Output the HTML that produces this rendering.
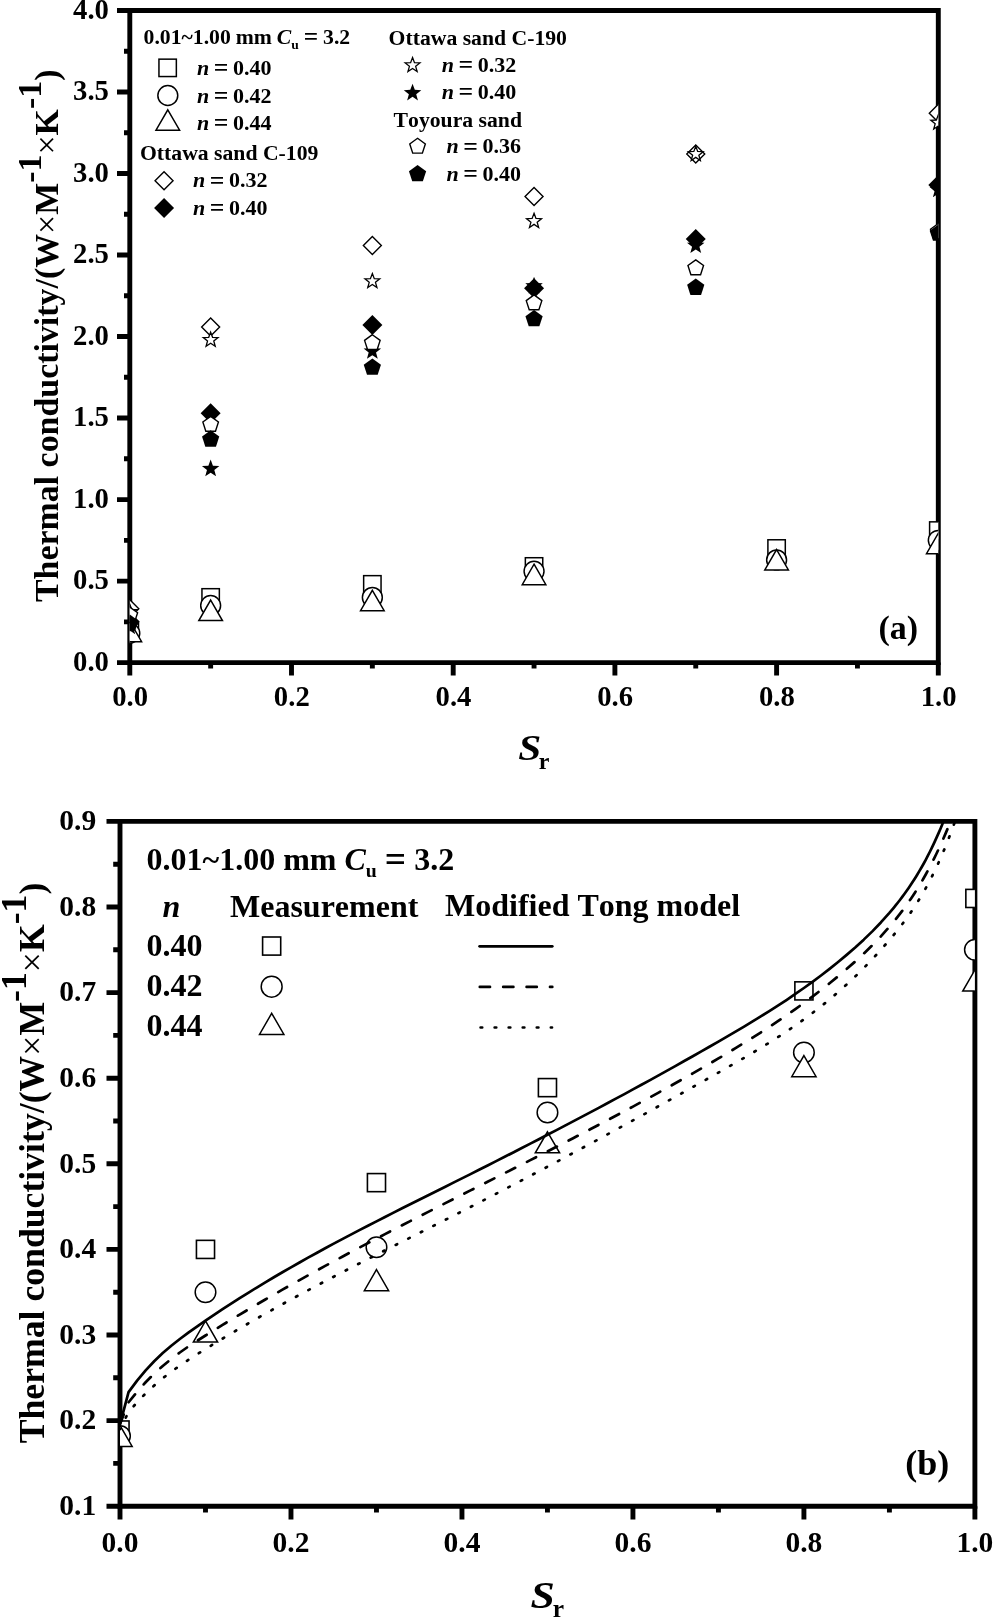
<!DOCTYPE html><html><head><meta charset="utf-8"><style>html,body{margin:0;padding:0;background:#fff;overflow:hidden;}svg{display:block;filter:grayscale(1);}text{font-family:"Liberation Serif", serif;font-weight:bold;font-kerning:none;}</style></head><body>
<svg width="993" height="1618" viewBox="0 0 993 1618">
<rect width="993" height="1618" fill="#fff"/>
<defs>
<clipPath id="ca"><rect x="129.8" y="10.5" width="808.5" height="652.1"/></clipPath>
<clipPath id="cb"><rect x="120.0" y="821.4" width="854.9" height="684.8000000000001"/></clipPath>
</defs>
<g stroke="#000" stroke-width="4.9" fill="none" stroke-linecap="butt">
<path d="M129.8,662.6 H938.3 M129.8,10.5 H938.3 M129.8,8.05 V665.0500000000001 M938.3,8.05 V665.0500000000001"/>
<path d="M117,662.6 H129.8 M124,621.84 H129.8 M117,581.09 H129.8 M124,540.33 H129.8 M117,499.58 H129.8 M124,458.82 H129.8 M117,418.06 H129.8 M124,377.31 H129.8 M117,336.55 H129.8 M124,295.79 H129.8 M117,255.04 H129.8 M124,214.28 H129.8 M117,173.52 H129.8 M124,132.77 H129.8 M117,92.01 H129.8 M124,51.26 H129.8 M117,10.5 H129.8 M129.8,662.6 V675.4 M210.65,662.6 V668.6 M291.5,662.6 V675.4 M372.35,662.6 V668.6 M453.2,662.6 V675.4 M534.05,662.6 V668.6 M614.9,662.6 V675.4 M695.75,662.6 V668.6 M776.6,662.6 V675.4 M857.45,662.6 V668.6 M938.3,662.6 V675.4 "/>
</g>
<text x="108.9" y="670.9" font-size="28.7" text-anchor="end">0.0</text>
<text x="108.9" y="589.39" font-size="28.7" text-anchor="end">0.5</text>
<text x="108.9" y="507.88" font-size="28.7" text-anchor="end">1.0</text>
<text x="108.9" y="426.36" font-size="28.7" text-anchor="end">1.5</text>
<text x="108.9" y="344.85" font-size="28.7" text-anchor="end">2.0</text>
<text x="108.9" y="263.34" font-size="28.7" text-anchor="end">2.5</text>
<text x="108.9" y="181.82" font-size="28.7" text-anchor="end">3.0</text>
<text x="108.9" y="100.31" font-size="28.7" text-anchor="end">3.5</text>
<text x="108.9" y="18.8" font-size="28.7" text-anchor="end">4.0</text>
<text x="130.1" y="706.3" font-size="28.7" text-anchor="middle">0.0</text>
<text x="291.8" y="706.3" font-size="28.7" text-anchor="middle">0.2</text>
<text x="453.5" y="706.3" font-size="28.7" text-anchor="middle">0.4</text>
<text x="615.2" y="706.3" font-size="28.7" text-anchor="middle">0.6</text>
<text x="776.9" y="706.3" font-size="28.7" text-anchor="middle">0.8</text>
<text x="938.6" y="706.3" font-size="28.7" text-anchor="middle">1.0</text>
<g clip-path="url(#ca)">
<rect x="121.1" y="622.93" width="17.4" height="17.4" fill="#fff" stroke="#000" stroke-width="1.5"/>
<rect x="201.95" y="588.69" width="17.4" height="17.4" fill="#fff" stroke="#000" stroke-width="1.5"/>
<rect x="363.65" y="575.65" width="17.4" height="17.4" fill="#fff" stroke="#000" stroke-width="1.5"/>
<rect x="525.35" y="557.72" width="17.4" height="17.4" fill="#fff" stroke="#000" stroke-width="1.5"/>
<rect x="767.9" y="539.78" width="17.4" height="17.4" fill="#fff" stroke="#000" stroke-width="1.5"/>
<rect x="929.6" y="521.85" width="17.4" height="17.4" fill="#fff" stroke="#000" stroke-width="1.5"/>
<circle cx="129.8" cy="633.26" r="9.95" fill="#fff" stroke="#000" stroke-width="1.5"/>
<circle cx="210.65" cy="605.54" r="9.95" fill="#fff" stroke="#000" stroke-width="1.5"/>
<circle cx="372.35" cy="597.39" r="9.95" fill="#fff" stroke="#000" stroke-width="1.5"/>
<circle cx="534.05" cy="571.31" r="9.95" fill="#fff" stroke="#000" stroke-width="1.5"/>
<circle cx="776.6" cy="559.89" r="9.95" fill="#fff" stroke="#000" stroke-width="1.5"/>
<circle cx="938.3" cy="540.33" r="9.95" fill="#fff" stroke="#000" stroke-width="1.5"/>
<polygon points="129.8,621.26 141.6,641.7 118,641.7" fill="#fff" stroke="#000" stroke-width="1.5" stroke-linejoin="miter"/>
<polygon points="210.65,600.07 222.45,620.51 198.85,620.51" fill="#fff" stroke="#000" stroke-width="1.5" stroke-linejoin="miter"/>
<polygon points="372.35,590.29 384.15,610.72 360.55,610.72" fill="#fff" stroke="#000" stroke-width="1.5" stroke-linejoin="miter"/>
<polygon points="534.05,564.2 545.85,584.64 522.25,584.64" fill="#fff" stroke="#000" stroke-width="1.5" stroke-linejoin="miter"/>
<polygon points="776.6,549.53 788.4,569.97 764.8,569.97" fill="#fff" stroke="#000" stroke-width="1.5" stroke-linejoin="miter"/>
<polygon points="938.3,533.23 950.1,553.66 926.5,553.66" fill="#fff" stroke="#000" stroke-width="1.5" stroke-linejoin="miter"/>
<polygon points="129.8,599.8 138.8,608.8 129.8,617.8 120.8,608.8" fill="#fff" stroke="#000" stroke-width="1.4" stroke-linejoin="miter"/>
<polygon points="210.65,318.09 219.65,327.09 210.65,336.09 201.65,327.09" fill="#fff" stroke="#000" stroke-width="1.4" stroke-linejoin="miter"/>
<polygon points="372.35,236.42 381.35,245.42 372.35,254.42 363.35,245.42" fill="#fff" stroke="#000" stroke-width="1.4" stroke-linejoin="miter"/>
<polygon points="534.05,187.51 543.05,196.51 534.05,205.51 525.05,196.51" fill="#fff" stroke="#000" stroke-width="1.4" stroke-linejoin="miter"/>
<polygon points="695.75,144.96 704.75,153.96 695.75,162.96 686.75,153.96" fill="#fff" stroke="#000" stroke-width="1.4" stroke-linejoin="miter"/>
<polygon points="938.3,104.21 947.3,113.21 938.3,122.21 929.3,113.21" fill="#fff" stroke="#000" stroke-width="1.4" stroke-linejoin="miter"/>
<polygon points="129.8,611.84 139.8,621.84 129.8,631.84 119.8,621.84" fill="#000" stroke="#000" stroke-width="0" stroke-linejoin="miter"/>
<polygon points="210.65,403.33 220.65,413.33 210.65,423.33 200.65,413.33" fill="#000" stroke="#000" stroke-width="0" stroke-linejoin="miter"/>
<polygon points="372.35,314.98 382.35,324.98 372.35,334.98 362.35,324.98" fill="#000" stroke="#000" stroke-width="0" stroke-linejoin="miter"/>
<polygon points="534.05,278.13 544.05,288.13 534.05,298.13 524.05,288.13" fill="#000" stroke="#000" stroke-width="0" stroke-linejoin="miter"/>
<polygon points="695.75,229.06 705.75,239.06 695.75,249.06 685.75,239.06" fill="#000" stroke="#000" stroke-width="0" stroke-linejoin="miter"/>
<polygon points="938.3,175.1 948.3,185.1 938.3,195.1 928.3,185.1" fill="#000" stroke="#000" stroke-width="0" stroke-linejoin="miter"/>
<polygon points="129.8,604.26 131.73,609.41 137.22,609.65 132.92,613.07 134.38,618.37 129.8,615.34 125.22,618.37 126.68,613.07 122.38,609.65 127.87,609.41" fill="#fff" stroke="#000" stroke-width="1.3" stroke-linejoin="miter"/>
<polygon points="210.65,332.17 212.58,337.32 218.07,337.56 213.77,340.99 215.23,346.28 210.65,343.25 206.07,346.28 207.53,340.99 203.23,337.56 208.72,337.32" fill="#fff" stroke="#000" stroke-width="1.3" stroke-linejoin="miter"/>
<polygon points="372.35,273.48 374.28,278.63 379.77,278.87 375.47,282.3 376.93,287.59 372.35,284.56 367.77,287.59 369.23,282.3 364.93,278.87 370.42,278.63" fill="#fff" stroke="#000" stroke-width="1.3" stroke-linejoin="miter"/>
<polygon points="534.05,213.33 535.98,218.48 541.47,218.72 537.17,222.14 538.63,227.44 534.05,224.4 529.47,227.44 530.93,222.14 526.63,218.72 532.12,218.48" fill="#fff" stroke="#000" stroke-width="1.3" stroke-linejoin="miter"/>
<polygon points="695.75,146.33 697.68,151.47 703.17,151.71 698.87,155.14 700.33,160.44 695.75,157.4 691.17,160.44 692.63,155.14 688.33,151.71 693.82,151.47" fill="#fff" stroke="#000" stroke-width="1.3" stroke-linejoin="miter"/>
<polygon points="938.3,114.86 940.23,120.01 945.72,120.25 941.42,123.67 942.88,128.97 938.3,125.94 933.72,128.97 935.18,123.67 930.88,120.25 936.37,120.01" fill="#fff" stroke="#000" stroke-width="1.3" stroke-linejoin="miter"/>
<polygon points="129.8,617.53 132.07,623.61 138.55,623.89 133.47,627.93 135.21,634.18 129.8,630.6 124.39,634.18 126.13,627.93 121.05,623.89 127.53,623.61" fill="#000" stroke="#000" stroke-width="0" stroke-linejoin="miter"/>
<polygon points="210.65,459.56 212.92,465.64 219.4,465.92 214.32,469.96 216.06,476.21 210.65,472.63 205.24,476.21 206.98,469.96 201.9,465.92 208.38,465.64" fill="#000" stroke="#000" stroke-width="0" stroke-linejoin="miter"/>
<polygon points="372.35,342.19 374.62,348.26 381.1,348.54 376.02,352.58 377.76,358.83 372.35,355.25 366.94,358.83 368.68,352.58 363.6,348.54 370.08,348.26" fill="#000" stroke="#000" stroke-width="0" stroke-linejoin="miter"/>
<polygon points="534.05,276.81 536.32,282.89 542.8,283.17 537.72,287.21 539.46,293.46 534.05,289.88 528.64,293.46 530.38,287.21 525.3,283.17 531.78,282.89" fill="#000" stroke="#000" stroke-width="0" stroke-linejoin="miter"/>
<polygon points="695.75,236.38 698.02,242.46 704.5,242.74 699.42,246.78 701.16,253.03 695.75,249.45 690.34,253.03 692.08,246.78 687,242.74 693.48,242.46" fill="#000" stroke="#000" stroke-width="0" stroke-linejoin="miter"/>
<polygon points="938.3,180.63 940.57,186.7 947.05,186.98 941.97,191.02 943.71,197.27 938.3,193.69 932.89,197.27 934.63,191.02 929.55,186.98 936.03,186.7" fill="#000" stroke="#000" stroke-width="0" stroke-linejoin="miter"/>
<polygon points="129.8,607.12 137.6,612.79 134.62,621.96 124.98,621.96 122,612.79" fill="#fff" stroke="#000" stroke-width="1.4" stroke-linejoin="miter"/>
<polygon points="210.65,416.38 218.45,422.05 215.47,431.22 205.83,431.22 202.85,422.05" fill="#fff" stroke="#000" stroke-width="1.4" stroke-linejoin="miter"/>
<polygon points="372.35,334.71 380.15,340.37 377.17,349.54 367.53,349.54 364.55,340.37" fill="#fff" stroke="#000" stroke-width="1.4" stroke-linejoin="miter"/>
<polygon points="534.05,294.93 541.85,300.6 538.87,309.76 529.23,309.76 526.25,300.6" fill="#fff" stroke="#000" stroke-width="1.4" stroke-linejoin="miter"/>
<polygon points="695.75,259.88 703.55,265.55 700.57,274.71 690.93,274.71 687.95,265.55" fill="#fff" stroke="#000" stroke-width="1.4" stroke-linejoin="miter"/>
<polygon points="938.3,223.52 946.1,229.19 943.12,238.36 933.48,238.36 930.5,229.19" fill="#fff" stroke="#000" stroke-width="1.4" stroke-linejoin="miter"/>
<polygon points="129.8,614.42 138.41,620.68 135.12,630.8 124.48,630.8 121.19,620.68" fill="#000" stroke="#000" stroke-width="0" stroke-linejoin="miter"/>
<polygon points="210.65,430.37 219.26,436.62 215.97,446.74 205.33,446.74 202.04,436.62" fill="#000" stroke="#000" stroke-width="0" stroke-linejoin="miter"/>
<polygon points="372.35,358.47 380.96,364.73 377.67,374.85 367.03,374.85 363.74,364.73" fill="#000" stroke="#000" stroke-width="0" stroke-linejoin="miter"/>
<polygon points="534.05,309.89 542.66,316.15 539.37,326.26 528.73,326.26 525.44,316.15" fill="#000" stroke="#000" stroke-width="0" stroke-linejoin="miter"/>
<polygon points="695.75,278.59 704.36,284.85 701.07,294.96 690.43,294.96 687.14,284.85" fill="#000" stroke="#000" stroke-width="0" stroke-linejoin="miter"/>
<polygon points="938.3,224.47 946.91,230.72 943.62,240.84 932.98,240.84 929.69,230.72" fill="#000" stroke="#000" stroke-width="0" stroke-linejoin="miter"/>
</g>
<text x="143.6" y="43.6" font-size="21.7" word-spacing="-0.5">0.01~1.00 mm <tspan font-style="italic">C</tspan><tspan font-size="13.5" dy="5.5">u</tspan><tspan dy="-5.5"> </tspan><tspan font-size="25.4" dy="1.1">=</tspan><tspan dy="-1.1"> 3.2</tspan></text>
<rect x="158.95" y="59.15" width="17.4" height="17.4" fill="#fff" stroke="#000" stroke-width="1.5"/>
<text x="197" y="75" font-size="22.0" word-spacing="-1"><tspan font-style="italic">n</tspan> <tspan font-size="25.74" dy="1.1">=</tspan><tspan dy="-1.1"> 0.40</tspan></text>
<circle cx="167.8" cy="95.5" r="9.95" fill="#fff" stroke="#000" stroke-width="1.5"/>
<text x="197" y="102.6" font-size="22.0" word-spacing="-1"><tspan font-style="italic">n</tspan> <tspan font-size="25.74" dy="1.1">=</tspan><tspan dy="-1.1"> 0.42</tspan></text>
<polygon points="167.8,109.77 179.6,130.21 156,130.21" fill="#fff" stroke="#000" stroke-width="1.5" stroke-linejoin="miter"/>
<text x="197" y="129.8" font-size="22.0" word-spacing="-1"><tspan font-style="italic">n</tspan> <tspan font-size="25.74" dy="1.1">=</tspan><tspan dy="-1.1"> 0.44</tspan></text>
<text x="140.0" y="160.2" font-size="21.7">Ottawa sand C-109</text>
<polygon points="164.05,171.85 173.05,180.85 164.05,189.85 155.05,180.85" fill="#fff" stroke="#000" stroke-width="1.4" stroke-linejoin="miter"/>
<text x="193" y="187.4" font-size="22.0" word-spacing="-1"><tspan font-style="italic">n</tspan> <tspan font-size="25.74" dy="1.1">=</tspan><tspan dy="-1.1"> 0.32</tspan></text>
<polygon points="164.05,198.05 174.05,208.05 164.05,218.05 154.05,208.05" fill="#000" stroke="#000" stroke-width="0" stroke-linejoin="miter"/>
<text x="193" y="214.6" font-size="22.0" word-spacing="-1"><tspan font-style="italic">n</tspan> <tspan font-size="25.74" dy="1.1">=</tspan><tspan dy="-1.1"> 0.40</tspan></text>
<text x="388.6" y="44.6" font-size="21.7">Ottawa sand C-190</text>
<polygon points="412.55,57.5 414.48,62.65 419.97,62.89 415.67,66.31 417.13,71.61 412.55,68.58 407.97,71.61 409.43,66.31 405.13,62.89 410.62,62.65" fill="#fff" stroke="#000" stroke-width="1.3" stroke-linejoin="miter"/>
<text x="441.8" y="72" font-size="22.0" word-spacing="-1"><tspan font-style="italic">n</tspan> <tspan font-size="25.74" dy="1.1">=</tspan><tspan dy="-1.1"> 0.32</tspan></text>
<polygon points="412.55,83.8 414.82,89.87 421.3,90.16 416.22,94.19 417.96,100.44 412.55,96.86 407.14,100.44 408.88,94.19 403.8,90.16 410.28,89.87" fill="#000" stroke="#000" stroke-width="0" stroke-linejoin="miter"/>
<text x="441.8" y="99" font-size="22.0" word-spacing="-1"><tspan font-style="italic">n</tspan> <tspan font-size="25.74" dy="1.1">=</tspan><tspan dy="-1.1"> 0.40</tspan></text>
<text x="393.6" y="126.6" font-size="21.7">Toyoura sand</text>
<polygon points="417.55,138.3 425.35,143.97 422.37,153.13 412.73,153.13 409.75,143.97" fill="#fff" stroke="#000" stroke-width="1.4" stroke-linejoin="miter"/>
<text x="446.5" y="153.4" font-size="22.0" word-spacing="-1"><tspan font-style="italic">n</tspan> <tspan font-size="25.74" dy="1.1">=</tspan><tspan dy="-1.1"> 0.36</tspan></text>
<polygon points="417.55,164.95 426.16,171.2 422.87,181.32 412.23,181.32 408.94,171.2" fill="#000" stroke="#000" stroke-width="0" stroke-linejoin="miter"/>
<text x="446.5" y="180.6" font-size="22.0" word-spacing="-1"><tspan font-style="italic">n</tspan> <tspan font-size="25.74" dy="1.1">=</tspan><tspan dy="-1.1"> 0.40</tspan></text>
<text x="878.5" y="638.7" font-size="34">(a)</text>
<text transform="translate(518.3,759.6) scale(1.18,1)" font-size="35" font-style="italic">S</text>
<text x="538.8" y="769" font-size="24">r</text>
<text transform="translate(57.6,335.75) rotate(-90)" font-size="33.9" text-anchor="middle">Thermal conductivity/(W<tspan font-weight="normal">×</tspan>M<tspan dy="-16.95">-1</tspan><tspan dy="16.95" font-weight="normal">×</tspan>K<tspan dy="-16.95">-1</tspan><tspan dy="16.95">)</tspan></text>
<g stroke="#000" stroke-width="4.9" fill="none" stroke-linecap="butt">
<path d="M120.0,1506.2 H974.9 M120.0,821.4 H974.9 M120.0,818.9499999999999 V1508.65 M974.9,818.9499999999999 V1508.65"/>
<path d="M106.5,1506.2 H120.0 M113.2,1463.4 H120.0 M106.5,1420.6 H120.0 M113.2,1377.8 H120.0 M106.5,1335 H120.0 M113.2,1292.2 H120.0 M106.5,1249.4 H120.0 M113.2,1206.6 H120.0 M106.5,1163.8 H120.0 M113.2,1121 H120.0 M106.5,1078.2 H120.0 M113.2,1035.4 H120.0 M106.5,992.6 H120.0 M113.2,949.8 H120.0 M106.5,907 H120.0 M113.2,864.2 H120.0 M106.5,821.4 H120.0 M120,1506.2 V1519.5 M205.49,1506.2 V1512.6 M290.98,1506.2 V1519.5 M376.47,1506.2 V1512.6 M461.96,1506.2 V1519.5 M547.45,1506.2 V1512.6 M632.94,1506.2 V1519.5 M718.43,1506.2 V1512.6 M803.92,1506.2 V1519.5 M889.41,1506.2 V1512.6 M974.9,1506.2 V1519.5 "/>
</g>
<text x="96.2" y="1514.9" font-size="29.5" text-anchor="end">0.1</text>
<text x="96.2" y="1429.3" font-size="29.5" text-anchor="end">0.2</text>
<text x="96.2" y="1343.7" font-size="29.5" text-anchor="end">0.3</text>
<text x="96.2" y="1258.1" font-size="29.5" text-anchor="end">0.4</text>
<text x="96.2" y="1172.5" font-size="29.5" text-anchor="end">0.5</text>
<text x="96.2" y="1086.9" font-size="29.5" text-anchor="end">0.6</text>
<text x="96.2" y="1001.3" font-size="29.5" text-anchor="end">0.7</text>
<text x="96.2" y="915.7" font-size="29.5" text-anchor="end">0.8</text>
<text x="96.2" y="830.1" font-size="29.5" text-anchor="end">0.9</text>
<text x="120" y="1552.2" font-size="29.5" text-anchor="middle">0.0</text>
<text x="290.98" y="1552.2" font-size="29.5" text-anchor="middle">0.2</text>
<text x="461.96" y="1552.2" font-size="29.5" text-anchor="middle">0.4</text>
<text x="632.94" y="1552.2" font-size="29.5" text-anchor="middle">0.6</text>
<text x="803.92" y="1552.2" font-size="29.5" text-anchor="middle">0.8</text>
<text x="974.9" y="1552.2" font-size="29.5" text-anchor="middle">1.0</text>
<g clip-path="url(#cb)">
<rect x="110.95" y="1420.97" width="18.1" height="18.1" fill="#fff" stroke="#000" stroke-width="1.6"/>
<rect x="196.44" y="1240.35" width="18.1" height="18.1" fill="#fff" stroke="#000" stroke-width="1.6"/>
<rect x="367.42" y="1173.58" width="18.1" height="18.1" fill="#fff" stroke="#000" stroke-width="1.6"/>
<rect x="538.4" y="1078.57" width="18.1" height="18.1" fill="#fff" stroke="#000" stroke-width="1.6"/>
<rect x="794.87" y="981.84" width="18.1" height="18.1" fill="#fff" stroke="#000" stroke-width="1.6"/>
<rect x="965.85" y="889.39" width="18.1" height="18.1" fill="#fff" stroke="#000" stroke-width="1.6"/>
<circle cx="120" cy="1436.01" r="10.3" fill="#fff" stroke="#000" stroke-width="1.5"/>
<circle cx="205.49" cy="1292.2" r="10.3" fill="#fff" stroke="#000" stroke-width="1.5"/>
<circle cx="376.47" cy="1247.26" r="10.3" fill="#fff" stroke="#000" stroke-width="1.5"/>
<circle cx="547.45" cy="1112.44" r="10.3" fill="#fff" stroke="#000" stroke-width="1.5"/>
<circle cx="803.92" cy="1052.52" r="10.3" fill="#fff" stroke="#000" stroke-width="1.5"/>
<circle cx="974.9" cy="949.8" r="10.3" fill="#fff" stroke="#000" stroke-width="1.5"/>
<polygon points="120,1425.4 132.15,1446.45 107.85,1446.45" fill="#fff" stroke="#000" stroke-width="1.5" stroke-linejoin="miter"/>
<polygon points="205.49,1320.97 217.64,1342.01 193.34,1342.01" fill="#fff" stroke="#000" stroke-width="1.5" stroke-linejoin="miter"/>
<polygon points="376.47,1269.61 388.62,1290.65 364.32,1290.65" fill="#fff" stroke="#000" stroke-width="1.5" stroke-linejoin="miter"/>
<polygon points="547.45,1131.79 559.6,1152.84 535.3,1152.84" fill="#fff" stroke="#000" stroke-width="1.5" stroke-linejoin="miter"/>
<polygon points="803.92,1055.61 816.07,1076.65 791.77,1076.65" fill="#fff" stroke="#000" stroke-width="1.5" stroke-linejoin="miter"/>
<polygon points="974.9,970.01 987.05,991.05 962.75,991.05" fill="#fff" stroke="#000" stroke-width="1.5" stroke-linejoin="miter"/>
<g fill="none" stroke="#000" stroke-width="2.7" stroke-linejoin="round">
<path d="M120.00,1424.37 L128.55,1392.08 L137.10,1380.58 L145.65,1370.36 L154.20,1361.26 L162.75,1353.10 L171.29,1345.72 L179.84,1338.96 L188.39,1332.63 L196.94,1326.59 L205.49,1320.68 L214.04,1314.89 L222.59,1309.22 L231.14,1303.65 L239.69,1298.19 L248.24,1292.82 L256.78,1287.55 L265.33,1282.37 L273.88,1277.28 L282.43,1272.27 L290.98,1267.33 L299.53,1262.47 L308.08,1257.68 L316.63,1252.96 L325.18,1248.29 L333.73,1243.68 L342.27,1239.12 L350.82,1234.61 L359.37,1230.15 L367.92,1225.72 L376.47,1221.33 L385.02,1216.97 L393.57,1212.63 L402.12,1208.32 L410.67,1204.02 L419.22,1199.74 L427.76,1195.47 L436.31,1191.20 L444.86,1186.93 L453.41,1182.66 L461.96,1178.38 L470.51,1174.09 L479.06,1169.79 L487.61,1165.47 L496.16,1161.14 L504.70,1156.80 L513.25,1152.43 L521.80,1148.06 L530.35,1143.66 L538.90,1139.25 L547.45,1134.82 L556.00,1130.38 L564.55,1125.91 L573.10,1121.42 L581.65,1116.92 L590.20,1112.39 L598.74,1107.84 L607.29,1103.27 L615.84,1098.68 L624.39,1094.07 L632.94,1089.43 L641.49,1084.76 L650.04,1080.07 L658.59,1075.36 L667.14,1070.62 L675.69,1065.85 L684.23,1061.05 L692.78,1056.23 L701.33,1051.38 L709.88,1046.50 L718.43,1041.59 L726.98,1036.64 L735.53,1031.65 L744.08,1026.59 L752.63,1021.46 L761.17,1016.22 L769.72,1010.88 L778.27,1005.40 L786.82,999.77 L795.37,993.98 L803.92,988.01 L812.47,981.85 L821.02,975.47 L829.57,968.85 L838.12,961.99 L846.66,954.87 L855.21,947.45 L863.76,939.65 L872.31,931.35 L880.86,922.47 L889.41,912.88 L891.55,910.36 L893.68,907.79 L895.82,905.16 L897.96,902.47 L900.10,899.71 L902.23,896.88 L904.37,893.97 L906.51,890.98 L908.65,887.91 L910.78,884.76 L912.92,881.51 L915.06,878.16 L917.19,874.71 L919.33,871.16 L921.47,867.50 L923.61,863.72 L925.74,859.80 L927.88,855.73 L930.02,851.50 L932.15,847.13 L934.29,842.60 L936.43,837.93 L938.57,833.12 L940.70,828.18 L942.84,823.10 L944.98,817.90 L947.12,812.58 L949.25,807.14 L951.39,801.58 L953.53,795.92"/>
<path d="M120.00,1424.02 L128.55,1402.34 L137.10,1391.75 L145.65,1382.23 L154.20,1373.67 L162.75,1365.95 L171.29,1358.94 L179.84,1352.51 L188.39,1346.54 L196.94,1340.91 L205.49,1335.50 L214.04,1330.18 L222.59,1324.92 L231.14,1319.73 L239.69,1314.59 L248.24,1309.51 L256.78,1304.48 L265.33,1299.50 L273.88,1294.57 L282.43,1289.69 L290.98,1284.86 L299.53,1280.06 L308.08,1275.31 L316.63,1270.60 L325.18,1265.93 L333.73,1261.30 L342.27,1256.69 L350.82,1252.12 L359.37,1247.58 L367.92,1243.07 L376.47,1238.59 L385.02,1234.12 L393.57,1229.69 L402.12,1225.27 L410.67,1220.87 L419.22,1216.48 L427.76,1212.11 L436.31,1207.76 L444.86,1203.41 L453.41,1199.08 L461.96,1194.75 L470.51,1190.42 L479.06,1186.10 L487.61,1181.78 L496.16,1177.46 L504.70,1173.13 L513.25,1168.80 L521.80,1164.47 L530.35,1160.12 L538.90,1155.77 L547.45,1151.40 L556.00,1147.01 L564.55,1142.62 L573.10,1138.20 L581.65,1133.76 L590.20,1129.30 L598.74,1124.82 L607.29,1120.31 L615.84,1115.77 L624.39,1111.20 L632.94,1106.60 L641.49,1101.96 L650.04,1097.29 L658.59,1092.59 L667.14,1087.84 L675.69,1083.05 L684.23,1078.21 L692.78,1073.34 L701.33,1068.41 L709.88,1063.44 L718.43,1058.41 L726.98,1053.33 L735.53,1048.18 L744.08,1042.95 L752.63,1037.63 L761.17,1032.19 L769.72,1026.64 L778.27,1020.96 L786.82,1015.12 L795.37,1009.13 L803.92,1002.96 L812.47,996.60 L821.02,990.04 L829.57,983.26 L838.12,976.26 L846.66,969.01 L855.21,961.49 L863.76,953.61 L872.31,945.27 L880.86,936.36 L889.41,926.78 L891.55,924.27 L893.68,921.71 L895.82,919.09 L897.96,916.41 L900.10,913.67 L902.23,910.86 L904.37,907.98 L906.51,905.03 L908.65,902.00 L910.78,898.89 L912.92,895.69 L915.06,892.40 L917.19,889.02 L919.33,885.54 L921.47,881.96 L923.61,878.27 L925.74,874.48 L927.88,870.58 L930.02,866.56 L932.15,862.42 L934.29,858.16 L936.43,853.78 L938.57,849.26 L940.70,844.62 L942.84,839.83 L944.98,834.91 L947.12,829.85 L949.25,824.64 L951.39,819.29 L953.53,813.78 L955.66,808.11 L957.80,802.29" stroke-dasharray="10.2 13.2" stroke-linecap="round"/>
<path d="M120.00,1429.16 L128.55,1412.11 L137.10,1402.27 L145.65,1393.43 L154.20,1385.47 L162.75,1378.26 L171.29,1371.67 L179.84,1365.58 L188.39,1359.87 L196.94,1354.39 L205.49,1349.05 L214.04,1343.78 L222.59,1338.59 L231.14,1333.48 L239.69,1328.43 L248.24,1323.46 L256.78,1318.55 L265.33,1313.70 L273.88,1308.91 L282.43,1304.17 L290.98,1299.48 L299.53,1294.84 L308.08,1290.25 L316.63,1285.70 L325.18,1281.18 L333.73,1276.70 L342.27,1272.25 L350.82,1267.83 L359.37,1263.44 L367.92,1259.06 L376.47,1254.70 L385.02,1250.36 L393.57,1246.03 L402.12,1241.70 L410.67,1237.38 L419.22,1233.06 L427.76,1228.74 L436.31,1224.41 L444.86,1220.08 L453.41,1215.73 L461.96,1211.37 L470.51,1206.98 L479.06,1202.58 L487.61,1198.16 L496.16,1193.72 L504.70,1189.27 L513.25,1184.79 L521.80,1180.30 L530.35,1175.79 L538.90,1171.27 L547.45,1166.72 L556.00,1162.16 L564.55,1157.59 L573.10,1152.99 L581.65,1148.38 L590.20,1143.76 L598.74,1139.12 L607.29,1134.46 L615.84,1129.79 L624.39,1125.10 L632.94,1120.40 L641.49,1115.68 L650.04,1110.95 L658.59,1106.20 L667.14,1101.44 L675.69,1096.66 L684.23,1091.88 L692.78,1087.07 L701.33,1082.26 L709.88,1077.43 L718.43,1072.59 L726.98,1067.73 L735.53,1062.84 L744.08,1057.88 L752.63,1052.84 L761.17,1047.68 L769.72,1042.39 L778.27,1036.93 L786.82,1031.29 L795.37,1025.44 L803.92,1019.35 L812.47,1013.00 L821.02,1006.37 L829.57,999.43 L838.12,992.15 L846.66,984.51 L855.21,976.48 L863.76,968.05 L872.31,959.18 L880.86,949.85 L889.41,940.04 L891.55,937.51 L893.68,934.94 L895.82,932.33 L897.96,929.67 L900.10,926.96 L902.23,924.18 L904.37,921.34 L906.51,918.44 L908.65,915.45 L910.78,912.39 L912.92,909.24 L915.06,905.99 L917.19,902.65 L919.33,899.21 L921.47,895.65 L923.61,891.99 L925.74,888.20 L927.88,884.29 L930.02,880.25 L932.15,876.07 L934.29,871.75 L936.43,867.28 L938.57,862.66 L940.70,857.89 L942.84,852.95 L944.98,847.84 L947.12,842.55 L949.25,837.09 L951.39,831.44 L953.53,825.60 L955.66,819.57 L957.80,813.33 L959.94,806.88 L962.08,800.23" stroke-dasharray="1.6 12.45" stroke-dashoffset="1.2" stroke-linecap="round"/>
</g>
</g>
<text x="146.5" y="869.8" font-size="32.0">0.01~1.00 mm <tspan font-style="italic">C</tspan><tspan font-size="19.8" dy="7.5">u</tspan><tspan dy="-7.5"> </tspan><tspan font-size="37.4" dy="1.8">=</tspan><tspan dy="-1.8"> 3.2</tspan></text>
<text x="162.5" y="916.5" font-size="32.0" font-style="italic">n</text>
<text x="230" y="916.5" font-size="32.0">Measurement</text>
<text x="445" y="916.3" font-size="32.0">Modified Tong model</text>
<text x="146.5" y="956.2" font-size="32.0">0.40</text>
<text x="146.5" y="995.7" font-size="32.0">0.42</text>
<text x="146.5" y="1036.2" font-size="32.0">0.44</text>
<rect x="262.6" y="937" width="18.1" height="18.1" fill="#fff" stroke="#000" stroke-width="1.6"/>
<circle cx="271.65" cy="986.7" r="10.45" fill="#fff" stroke="#000" stroke-width="1.5"/>
<polygon points="271.7,1013.31 283.9,1034.44 259.5,1034.44" fill="#fff" stroke="#000" stroke-width="1.5" stroke-linejoin="miter"/>
<g fill="none" stroke="#000" stroke-width="2.7" stroke-linecap="round">
<path d="M479.6,946.3 H552.3"/>
<path d="M479.8,986.9 H552.3" stroke-dasharray="10.2 13.2"/>
<path d="M480.6,1027.5 H552" stroke-dasharray="1.6 12.45"/>
</g>
<text x="905.3" y="1474.7" font-size="36">(b)</text>
<text transform="translate(530.5,1608.1) scale(1.18,1)" font-size="37" font-style="italic">S</text>
<text x="552.8" y="1617.3" font-size="25.5">r</text>
<text transform="translate(44.2,1163) rotate(-90)" font-size="35.7" text-anchor="middle">Thermal conductivity/(W<tspan font-weight="normal">×</tspan>M<tspan dy="-17.85">-1</tspan><tspan dy="17.85" font-weight="normal">×</tspan>K<tspan dy="-17.85">-1</tspan><tspan dy="17.85">)</tspan></text>
</svg></body></html>
